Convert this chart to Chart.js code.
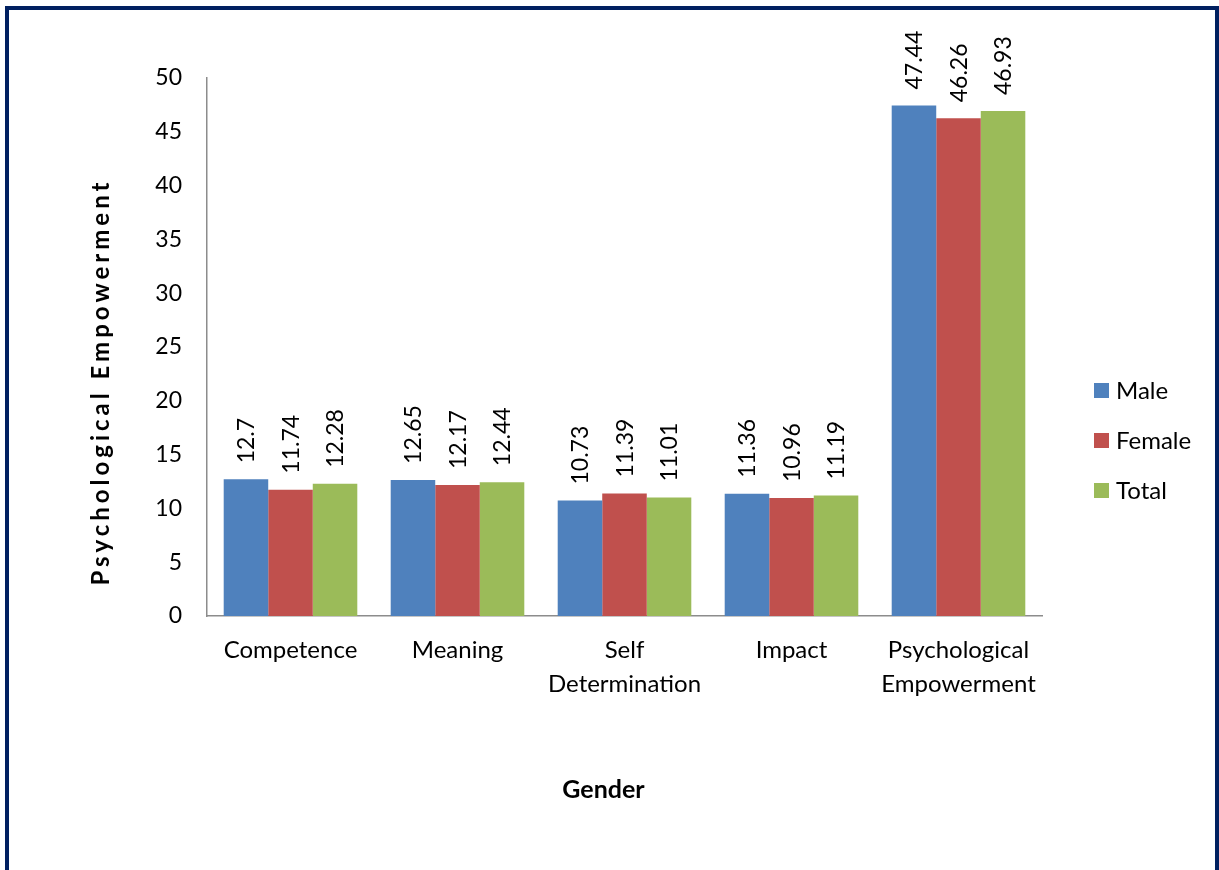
<!DOCTYPE html>
<html>
<head>
<meta charset="utf-8">
<script src="https://cdn.jsdelivr.net/npm/chart.js@4/dist/chart.umd.min.js"></script>
<style>
  html, body { margin: 0; padding: 0; background: #fff; overflow: hidden; }
  #frame {
    position: absolute; left: 5px; top: 6px; width: 1206px; height: 900px;
    border: 4px solid #002060; border-bottom: none;
  }
  #wrap { position: absolute; left: 0; top: 0; width: 1219px; height: 870px; }
</style>
</head>
<body>
<div id="frame"></div>
<div id="wrap"><canvas id="chart" width="1219" height="870"></canvas></div>
<script>
const categories = [
  'Competence',
  'Meaning',
  ['Self', 'Determination'],
  'Impact',
  ['Psychological', 'Empowerment']
];
const male = [12.7, 12.65, 10.73, 11.36, 47.44];
const female = [11.74, 12.17, 11.39, 10.96, 46.26];
const total = [12.28, 12.44, 11.01, 11.19, 46.93];
const yTicks = [0, 5, 10, 15, 20, 25, 30, 35, 40, 45, 50];

const FONT = 'Lato';

// value printed sideways above each bar
const barLabels = {
  id: 'barLabels',
  afterDatasetsDraw(chart) {
    const ctx = chart.ctx;
    ctx.save();
    ctx.font = '23px ' + FONT;
    ctx.fillStyle = '#000';
    ctx.textAlign = 'left';
    ctx.textBaseline = 'middle';
    chart.data.datasets.forEach((ds, i) => {
      chart.getDatasetMeta(i).data.forEach((bar, j) => {
        ctx.save();
        ctx.translate(bar.x + 1, bar.y - 16);
        ctx.rotate(-Math.PI / 2);
        ctx.fillText(String(ds.data[j]), 0, 0);
        ctx.restore();
      });
    });
    ctx.restore();
  }
};

// legend on the right, plus both axis titles
const extras = {
  id: 'extras',
  afterDraw(chart) {
    const ctx = chart.ctx;
    const area = chart.chartArea;
    ctx.save();

    ctx.font = '24px ' + FONT;
    ctx.textBaseline = 'middle';
    ctx.textAlign = 'left';
    const lx = area.right + 52;
    const ly = (area.top + area.bottom) / 2 + 93;
    chart.data.datasets.forEach((ds, i) => {
      const y = ly + (i - 1) * 50;
      ctx.fillStyle = ds.backgroundColor;
      ctx.fillRect(lx, y - 7, 15, 15);
      ctx.fillStyle = '#000';
      ctx.fillText(ds.label, lx + 22, y + 1);
    });

    ctx.fillStyle = '#000';
    ctx.textAlign = 'center';
    ctx.font = 'bold 24px ' + FONT;
    ctx.letterSpacing = '4px';
    ctx.save();
    ctx.translate(101, (area.top + area.bottom) / 2 + 35);
    ctx.rotate(-Math.PI / 2);
    ctx.fillText('Psychological Empowerment', 0, 0);
    ctx.restore();

    ctx.letterSpacing = '0px';
    ctx.font = 'bold 25px ' + FONT;
    ctx.fillText('Gender', (area.left + area.right) / 2 - 21, 790);
    ctx.restore();
  }
};

new Chart(document.getElementById('chart'), {
  type: 'bar',
  data: {
    labels: categories,
    datasets: [
      { label: 'Male', data: male, backgroundColor: '#4F81BD' },
      { label: 'Female', data: female, backgroundColor: '#C0504D' },
      { label: 'Total', data: total, backgroundColor: '#9BBB59' }
    ]
  },
  options: {
    responsive: false,
    animation: false,
    layout: { padding: { left: 0, right: 177, top: 78, bottom: 154 } },
    datasets: { bar: { barPercentage: 1, categoryPercentage: 0.8 } },
    scales: {
      x: {
        grid: { display: false, drawTicks: false, tickLength: 0 },
        border: { display: true, color: '#8c8c8c', width: 1.5 },
        ticks: {
          color: '#000', padding: 17, maxRotation: 0, autoSkip: false,
          font: { family: FONT, size: 24, lineHeight: 1.42 }
        },
        afterFit(scale) { scale.height = 100; }
      },
      y: {
        min: 0, max: 50,
        afterBuildTicks(scale) { scale.ticks = yTicks.map(v => ({ value: v })); },
        grid: { display: false, drawTicks: false, tickLength: 0 },
        border: { display: true, color: '#8c8c8c', width: 1.5 },
        ticks: { color: '#000', padding: 25, font: { family: FONT, size: 23 } },
        afterFit(scale) { scale.width = 207; }
      }
    },
    plugins: {
      legend: { display: false },
      tooltip: { enabled: false }
    }
  },
  plugins: [barLabels, extras]
});
</script>
</body>
</html>
